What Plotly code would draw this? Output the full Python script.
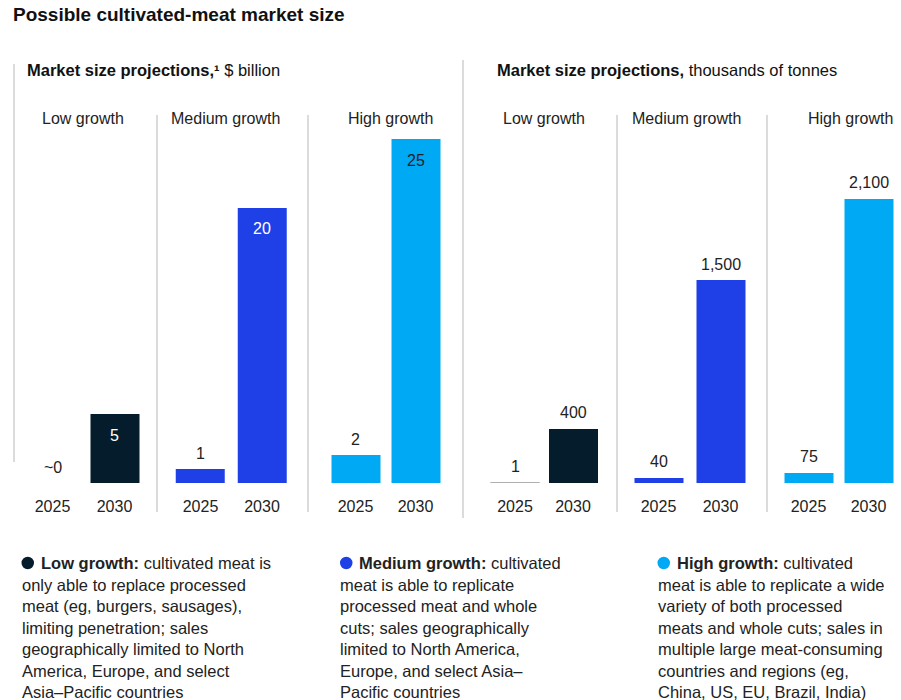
import plotly.graph_objects as go
from plotly.subplots import make_subplots

# ---------------- data ----------------
years = ["2025", "2030"]
scenarios = ["Low growth", "Medium growth", "High growth"]

usd_low = [0, 5]
usd_medium = [1, 20]
usd_high = [2, 25]
usd_labels_low = ["~0", "5"]
usd_labels_medium = ["1", "20"]
usd_labels_high = ["2", "25"]

tonnes_low = [1, 400]
tonnes_medium = [40, 1500]
tonnes_high = [75, 2100]
tonnes_labels_low = ["1", "400"]
tonnes_labels_medium = ["40", "1,500"]
tonnes_labels_high = ["75", "2,100"]

title_text = "Possible cultivated-meat market size"
subtitle_left = "<b>Market size projections,¹</b> $ billion"
subtitle_right = "<b>Market size projections,</b> thousands of tonnes"

legend_low = ["<b>Low growth:</b> cultivated meat is", "only able to replace processed",
              "meat (eg, burgers, sausages),", "limiting penetration; sales",
              "geographically limited to North", "America, Europe, and select",
              "Asia–Pacific countries"]
legend_medium = ["<b>Medium growth:</b> cultivated", "meat is able to replicate",
                 "processed meat and whole", "cuts; sales geographically",
                 "limited to North America,", "Europe, and select Asia–",
                 "Pacific countries"]
legend_high = ["<b>High growth:</b> cultivated", "meat is able to replicate a wide",
               "variety of both processed", "meats and whole cuts; sales in",
               "multiple large meat-consuming", "countries and regions (eg,",
               "China, US, EU, Brazil, India)"]

# ---------------- style ----------------
W, H = 901, 700
NAVY = "#051C2C"
BLUE = "#1F40E6"
CYAN = "#00A9F4"
TEXT = "#222222"
GRID = "#cfcfcf"
FONT = "Liberation Sans, Arial, sans-serif"
colors = [NAVY, BLUE, CYAN]


def px(x):
    return x / W


def py(y):
    return 1 - y / H


fig = make_subplots(rows=1, cols=6)

# (c1, c2) bar centres in pixels for each sub-panel
centres = [(52.5, 114.5), (200.5, 262), (355.5, 415.5),
           (515, 573), (658.5, 720.5), (808.5, 868.5)]
BAR_W = 49
BASE = 483

panels = [
    (usd_low, usd_labels_low, 0, "left"),
    (usd_medium, usd_labels_medium, 1, "left"),
    (usd_high, usd_labels_high, 2, "left"),
    (tonnes_low, tonnes_labels_low, 0, "right"),
    (tonnes_medium, tonnes_labels_medium, 1, "right"),
    (tonnes_high, tonnes_labels_high, 2, "right"),
]

annotations = []
for i, (vals, labs, sc, side) in enumerate(panels):
    c1, c2 = centres[i]
    s = c2 - c1
    w = BAR_W / s
    col = colors[sc]
    line_cols = [col, col]
    line_ws = [0, 0]
    if side == "right" and sc == 0:
        line_cols = ["#b0b0b0", col]
        line_ws = [1, 0]
    fig.add_trace(go.Bar(x=years, y=vals, width=[w, w],
                         marker=dict(color=col, line=dict(color=line_cols, width=line_ws)),
                         showlegend=False, hoverinfo="skip"), row=1, col=i + 1)
    xa = "xaxis" if i == 0 else f"xaxis{i + 1}"
    ya = "yaxis" if i == 0 else f"yaxis{i + 1}"
    fig.layout[xa].update(domain=[px(c1 - s / 2), px(c2 + s / 2)], type="category",
                          range=[-0.5, 1.5], showgrid=False, zeroline=False, showline=False,
                          ticks="", tickfont=dict(size=16, color=TEXT, family=FONT),
                          ticklabelstandoff=12, fixedrange=True)
    if side == "left":
        yr = [0, 25]
        top = 139
    else:
        yr = [0, 2100]
        top = 199
    fig.layout[ya].update(domain=[py(BASE), py(top)], range=yr, visible=False, fixedrange=True)

    xref = "x" if i == 0 else f"x{i + 1}"
    yref = "y" if i == 0 else f"y{i + 1}"
    for j, (v, t) in enumerate(zip(vals, labs)):
        inside = side == "left" and j == 1
        if inside:
            tc = TEXT if sc == 2 else "white"
            ys = -21
        else:
            tc = TEXT
            ys = 16
        annotations.append(dict(x=j, y=v, xref=xref, yref=yref, text=t,
                                showarrow=False, yshift=ys, yanchor="middle",
                                font=dict(size=16, color=tc, family=FONT)))

# titles
annotations.append(dict(x=px(11), y=py(14), xref="paper", yref="paper", text=f"<b>{title_text}</b>",
                        showarrow=False, xanchor="left", yanchor="middle",
                        font=dict(size=19, color="#111111", family=FONT)))
annotations.append(dict(x=px(25), y=py(70), xref="paper", yref="paper", text=subtitle_left,
                        showarrow=False, xanchor="left", yanchor="middle",
                        font=dict(size=16.5, color="#111111", family=FONT)))
annotations.append(dict(x=px(495), y=py(70), xref="paper", yref="paper", text=subtitle_right,
                        showarrow=False, xanchor="left", yanchor="middle",
                        font=dict(size=16.5, color="#111111", family=FONT)))

header_centres = [83, 225, 390, 544, 686, 850.5]
for k, hc in enumerate(header_centres):
    annotations.append(dict(x=px(hc), y=py(118), xref="paper", yref="paper", text=scenarios[k % 3],
                            showarrow=False, xanchor="center", yanchor="middle",
                            font=dict(size=16, color=TEXT, family=FONT)))

shapes = []
# legend text blocks: bullet circle, first line, remaining lines
legend_blocks = [(legend_low, NAVY, 21.5), (legend_medium, BLUE, 340), (legend_high, CYAN, 657.5)]
LINE1_Y = 563
for lines, c, x0 in legend_blocks:
    shapes.append(dict(type="circle", xref="paper", yref="paper",
                       x0=px(x0), x1=px(x0 + 12.5), y0=py(LINE1_Y - 6.25), y1=py(LINE1_Y + 6.25),
                       fillcolor=c, line=dict(width=0)))
    annotations.append(dict(x=px(x0 + 17), y=py(LINE1_Y), xref="paper", yref="paper", text=lines[0],
                            showarrow=False, xanchor="left", yanchor="middle", align="left",
                            font=dict(size=16.5, color=TEXT, family=FONT)))
    annotations.append(dict(x=px(x0 - 2), y=py(LINE1_Y + 10.5), xref="paper", yref="paper",
                            text="<br>".join(lines[1:]),
                            showarrow=False, xanchor="left", yanchor="top", align="left",
                            font=dict(size=16.5, color=TEXT, family=FONT)))

# separator lines
seps = [(14, 64, 462), (157, 115, 512), (308, 115, 512),
        (463, 60, 518), (617, 115, 512), (767, 115, 512)]
for x0, y0, y1 in seps:
    shapes.append(dict(type="line", xref="paper", yref="paper", x0=px(x0), x1=px(x0),
                       y0=py(y0), y1=py(y1), line=dict(color=GRID, width=1.5)))

fig.update_layout(width=W, height=H, autosize=False,
                  margin=dict(l=0, r=0, t=0, b=0),
                  paper_bgcolor="white", plot_bgcolor="white",
                  annotations=annotations, shapes=shapes,
                  font=dict(family=FONT, color=TEXT), bargap=0)

fig.write_html("out.html", config={"displayModeBar": False},
               post_script="document.body.style.margin='0';document.body.style.overflow='hidden';")
